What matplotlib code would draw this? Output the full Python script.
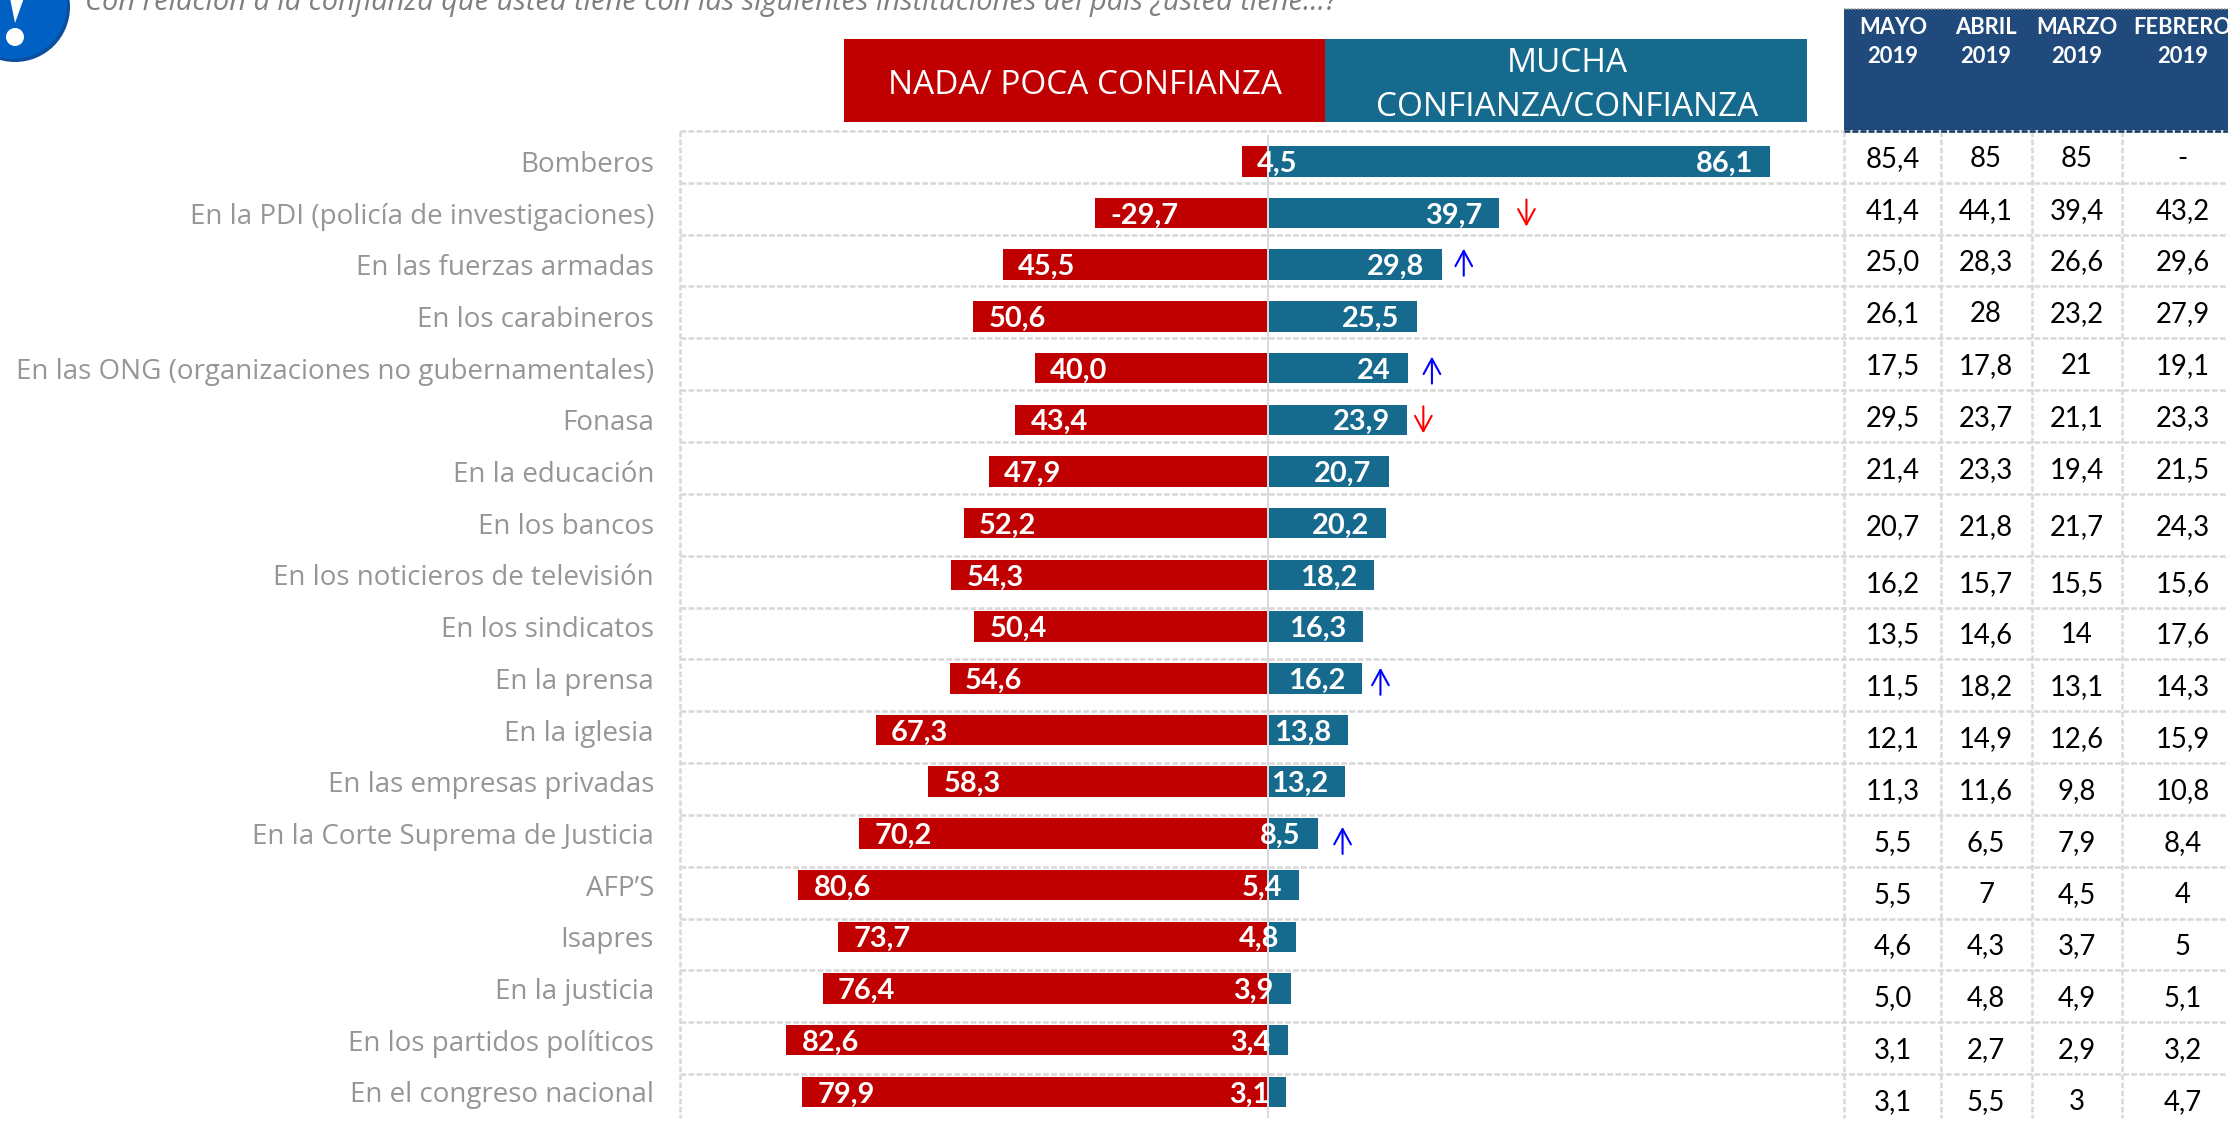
import matplotlib
matplotlib.use('Agg')
import matplotlib.pyplot as plt
from matplotlib.patches import Circle, Polygon, Rectangle

categories = ['Bomberos', 'En la PDI (policía de investigaciones)', 'En las fuerzas armadas',
              'En los carabineros', 'En las ONG (organizaciones no gubernamentales)', 'Fonasa',
              'En la educación', 'En los bancos', 'En los noticieros de televisión',
              'En los sindicatos', 'En la prensa', 'En la iglesia', 'En las empresas privadas',
              'En la Corte Suprema de Justicia', 'AFP’S', 'Isapres', 'En la justicia',
              'En los partidos políticos', 'En el congreso nacional']

nada = [4.5, 29.7, 45.5, 50.6, 40.0, 43.4, 47.9, 52.2, 54.3, 50.4, 54.6, 67.3, 58.3, 70.2,
        80.6, 73.7, 76.4, 82.6, 79.9]
mucha = [86.1, 39.7, 29.8, 25.5, 24, 23.9, 20.7, 20.2, 18.2, 16.3, 16.2, 13.8, 13.2, 8.5,
         5.4, 4.8, 3.9, 3.4, 3.1]
nada_labels = ['4,5', '-29,7', '45,5', '50,6', '40,0', '43,4', '47,9', '52,2', '54,3', '50,4',
               '54,6', '67,3', '58,3', '70,2', '80,6', '73,7', '76,4', '82,6', '79,9']
mucha_labels = ['86,1', '39,7', '29,8', '25,5', '24', '23,9', '20,7', '20,2', '18,2', '16,3',
                '16,2', '13,8', '13,2', '8,5', '5,4', '4,8', '3,9', '3,4', '3,1']

months = ['MAYO\n2019', 'ABRIL\n2019', 'MARZO\n2019', 'FEBRERO\n2019']
mayo = ['85,4', '41,4', '25,0', '26,1', '17,5', '29,5', '21,4', '20,7', '16,2', '13,5', '11,5',
        '12,1', '11,3', '5,5', '5,5', '4,6', '5,0', '3,1', '3,1']
abril = ['85', '44,1', '28,3', '28', '17,8', '23,7', '23,3', '21,8', '15,7', '14,6', '18,2',
         '14,9', '11,6', '6,5', '7', '4,3', '4,8', '2,7', '5,5']
marzo = ['85', '39,4', '26,6', '23,2', '21', '21,1', '19,4', '21,7', '15,5', '14', '13,1',
         '12,6', '9,8', '7,9', '4,5', '3,7', '4,9', '2,9', '3']
febrero = ['-', '43,2', '29,6', '27,9', '19,1', '23,3', '21,5', '24,3', '15,6', '17,6', '14,3',
           '15,9', '10,8', '8,4', '4', '5', '5,1', '3,2', '4,7']

# rows that carry a change arrow: row, direction
arrow_rows = [1, 2, 4, 5, 10, 13]
arrow_up = [False, True, True, False, True, True]

RED = '#C00000'
TEAL = '#156A8E'
NAVY = '#204A7C'
GRID = '#D9D9D9'
PX = 0.72  # pixels to points at dpi 100

# layout in pixels of the picture
W, H = 2228, 1122
ZERO = 1268
PX_PER_UNIT = 5.83
ROW0 = 161.3
ROW_H = 51.7
grid_y = [131, 182.7, 234.7, 286.3, 338.3, 390.3, 442, 493.7, 555.7, 607.7, 659, 710.7, 763,
          815, 866.7, 918.7, 970.3, 1022, 1073.7]
grid_x = [680, 1844, 1941, 2032, 2122]
col_x = [1893, 1986, 2076.5, 2182.5]
arrow_gap = [27, 22, 24, 16, 18, 25]
arrow_dy = [0, -2.5, 2, 0, 3, 7]

plt.rcParams['font.family'] = ['Lato', 'DejaVu Sans']
OPEN = ['Open Sans', 'DejaVu Sans']

fig = plt.figure(figsize=(W / 100, H / 100), dpi=100)
fig.patch.set_facecolor('white')

# background axes in pixels: headers, table, dashed grid, logo
bg = fig.add_axes([0, 0, 1, 1], zorder=0)
bg.set_xlim(0, W)
bg.set_ylim(H, 0)
bg.axis('off')

dash = (0, (2.2, 0.9))
bg.add_patch(Rectangle((844, 39), 481, 83, color=RED, lw=0))
bg.add_patch(Rectangle((1325, 39), 482, 83, color=TEAL, lw=0))
bg.add_patch(Rectangle((1844, 9), W - 1844, 121, color=NAVY, lw=0))
bg.plot([1844, W], [9, 9], color='#9A9A9A', lw=1.2, ls=(0, (1, 1)))
for y in grid_y:
    bg.plot([680, W], [y, y], color=GRID, lw=2.6 * PX, ls=dash, zorder=1)
for x in grid_x:
    bg.plot([x, x], [131, 1118], color=GRID, lw=2.6 * PX, ls=dash, zorder=1)
bg.plot([1844, W], [130.5, 130.5], color='#173A63', lw=2.6 * PX, ls=dash, zorder=2)

bg.text(1085, 85, 'NADA/ POCA CONFIANZA', color='white', fontsize=24, ha='center',
        va='center', family=OPEN)
bg.text(1567, 63, 'MUCHA', color='white', fontsize=24, ha='center', va='center', family=OPEN)
bg.text(1567, 107, 'CONFIANZA/CONFIANZA', color='white', fontsize=24, ha='center', va='center',
        family=OPEN)

bg.text(85, 10, 'Con relación a la confianza que usted tiene con las siguientes instituciones '
        'del país ¿usted tiene…?', color='#7F7F7F', fontsize=29 * PX, style='italic',
        ha='left', va='baseline', family=OPEN)

# question mark badge
bg.add_patch(Circle((15, 7), 55, color='#0B4E9E', lw=0))
bg.add_patch(Circle((13, 5), 54, color='#0060C4', lw=0))
bg.add_patch(Polygon([(10, -2), (24, -2), (15, 23)], color='white', lw=0))
bg.add_patch(Circle((15, 37), 9, color='white', lw=0))

for x, label in zip(col_x, months):
    top, bottom = label.split('\n')
    bg.text(x, 27, top, color='white', fontsize=22 * PX, fontweight='bold', ha='center', va='center')
    bg.text(x, 56, bottom, color='white', fontsize=22 * PX, fontweight='bold', ha='center', va='center')

row_bottoms = grid_y[1:] + [grid_y[-1] + ROW_H]
for i in range(len(categories)):
    y = (grid_y[i] + row_bottoms[i]) / 2 + 2
    for x, col in zip(col_x, [mayo, abril, marzo, febrero]):
        bg.text(x, y, col[i], color='black', fontsize=27.5 * PX, ha='center', va='center')

# the diverging bars, in their own axes
ax = fig.add_axes([680 / W, 1 - 1118 / H, (1844 - 680) / W, (1118 - 131) / H], zorder=1)
ax.patch.set_alpha(0)
ax.set_xlim((680 - ZERO) / PX_PER_UNIT, (1844 - ZERO) / PX_PER_UNIT)
ax.set_ylim((1118 - ROW0) / ROW_H, (131 - ROW0) / ROW_H)
for s in ax.spines.values():
    s.set_visible(False)

rows = list(range(len(categories)))
bar_h = 30.5 / ROW_H
ax.barh(rows, [-v for v in nada], height=bar_h, color=RED, zorder=2)
ax.barh(rows, mucha, height=bar_h, color=TEAL, zorder=2)
ax.plot([0, 0], [(136 - ROW0) / ROW_H, (1118 - ROW0) / ROW_H], color=GRID, lw=2 * PX, zorder=3)

ax.set_yticks(rows)
ax.set_yticklabels(categories, color='#969696', fontsize=27.7 * PX, family=OPEN)
ax.tick_params(axis='y', length=0, pad=26 * PX)
ax.set_xticks([])

for i in rows:
    ax.annotate(nada_labels[i], (-nada[i], i), xytext=(15.5 * PX, -10.5 * PX), textcoords='offset points',
                color='white', fontsize=29 * PX, fontweight='bold', ha='left', va='baseline', zorder=5)
    ax.annotate(mucha_labels[i], (mucha[i], i), xytext=(-17 * PX, -10.5 * PX), textcoords='offset points',
                color='white', fontsize=29 * PX, fontweight='bold', ha='right', va='baseline', zorder=5)

for r, up, gap, dy in zip(arrow_rows, arrow_up, arrow_gap, arrow_dy):
    x = mucha[r] + gap / PX_PER_UNIT
    low = r + (dy + 13.5) / ROW_H
    high = r + (dy - 13.5) / ROW_H
    start, end = (low, high) if up else (high, low)
    ax.annotate('', xy=(x, end), xytext=(x, start),
                arrowprops=dict(arrowstyle='->,head_length=11,head_width=6', mutation_scale=1,
                                color='#0000FF' if up else '#FF0000', lw=1.5,
                                shrinkA=0, shrinkB=0))

fig.savefig('out.png', dpi=100)
